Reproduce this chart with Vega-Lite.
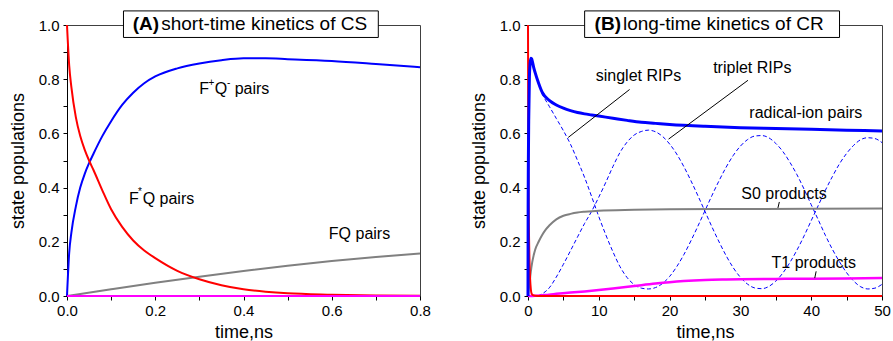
{
  "$schema": "https://vega.github.io/schema/vega-lite/v6.json",
  "padding": {"left": 8, "top": 9, "right": 0, "bottom": 0},
  "spacing": 38,
  "config": {
    "font": "Liberation Sans",
    "view": {"stroke": "#404040", "strokeWidth": 1},
    "axis": {"grid": false, "domainColor": "#000000", "tickColor": "#000000", "labelColor": "#000000", "titleColor": "#000000", "labelFont": "Liberation Sans", "titleFont": "Liberation Sans", "labelFontSize": 15, "titleFontSize": 18, "titleFontWeight": "normal", "tickSize": 4, "labelPadding": 3, "labelFlush": false, "labelOverlap": false}
  },
  "datasets": {
    "curvesA": [
      {"s":"red","t":0,"v":1},{"s":"red","t":0.005,"v":0.85},{"s":"red","t":0.01,"v":0.77},{"s":"red","t":0.02,"v":0.66},{"s":"red","t":0.03,"v":0.59},{"s":"red","t":0.04,"v":0.54},{"s":"red","t":0.05,"v":0.5},{"s":"red","t":0.06,"v":0.465},{"s":"red","t":0.08,"v":0.39},{"s":"red","t":0.1,"v":0.32},{"s":"red","t":0.125,"v":0.255},{"s":"red","t":0.15,"v":0.205},{"s":"red","t":0.175,"v":0.168},{"s":"red","t":0.2,"v":0.14},{"s":"red","t":0.25,"v":0.093},{"s":"red","t":0.3,"v":0.062},{"s":"red","t":0.35,"v":0.04},{"s":"red","t":0.4,"v":0.025},{"s":"red","t":0.45,"v":0.016},{"s":"red","t":0.5,"v":0.01},{"s":"red","t":0.6,"v":0.005},{"s":"red","t":0.7,"v":0.002},{"s":"red","t":0.8,"v":0.001},
      {"s":"blue","t":0,"v":0},{"s":"blue","t":0.005,"v":0.16},{"s":"blue","t":0.01,"v":0.235},{"s":"blue","t":0.02,"v":0.33},{"s":"blue","t":0.03,"v":0.4},{"s":"blue","t":0.04,"v":0.45},{"s":"blue","t":0.05,"v":0.49},{"s":"blue","t":0.06,"v":0.525},{"s":"blue","t":0.08,"v":0.59},{"s":"blue","t":0.1,"v":0.645},{"s":"blue","t":0.125,"v":0.705},{"s":"blue","t":0.15,"v":0.75},{"s":"blue","t":0.175,"v":0.785},{"s":"blue","t":0.2,"v":0.81},{"s":"blue","t":0.25,"v":0.84},{"s":"blue","t":0.3,"v":0.858},{"s":"blue","t":0.35,"v":0.87},{"s":"blue","t":0.4,"v":0.877},{"s":"blue","t":0.45,"v":0.877},{"s":"blue","t":0.5,"v":0.874},{"s":"blue","t":0.6,"v":0.867},{"s":"blue","t":0.7,"v":0.856},{"s":"blue","t":0.8,"v":0.844},
      {"s":"gray","t":0,"v":0},{"s":"gray","t":0.1,"v":0.025},{"s":"gray","t":0.2,"v":0.049},{"s":"gray","t":0.3,"v":0.071},{"s":"gray","t":0.4,"v":0.092},{"s":"gray","t":0.5,"v":0.112},{"s":"gray","t":0.6,"v":0.129},{"s":"gray","t":0.7,"v":0.144},{"s":"gray","t":0.8,"v":0.157},
      {"s":"magenta","t":0,"v":0},{"s":"magenta","t":0.8,"v":0}
    ],
    "curvesB": [
      {"s":"red","t":0,"v":1},{"s":"red","t":0.05,"v":0.5},{"s":"red","t":0.1,"v":0.32},{"s":"red","t":0.2,"v":0.14},{"s":"red","t":0.3,"v":0.062},{"s":"red","t":0.4,"v":0.025},{"s":"red","t":0.5,"v":0.01},{"s":"red","t":0.7,"v":0.003},{"s":"red","t":1,"v":0.001},{"s":"red","t":2,"v":0},{"s":"red","t":50,"v":0},
      {"s":"blue","t":0,"v":0},{"s":"blue","t":0.02,"v":0.33},{"s":"blue","t":0.05,"v":0.49},{"s":"blue","t":0.1,"v":0.645},{"s":"blue","t":0.2,"v":0.81},{"s":"blue","t":0.3,"v":0.858},{"s":"blue","t":0.4,"v":0.877},{"s":"blue","t":0.5,"v":0.876},{"s":"blue","t":0.6,"v":0.867},{"s":"blue","t":0.8,"v":0.844},{"s":"blue","t":1,"v":0.825},{"s":"blue","t":1.5,"v":0.785},{"s":"blue","t":2,"v":0.752},{"s":"blue","t":3,"v":0.722},{"s":"blue","t":4,"v":0.705},{"s":"blue","t":5,"v":0.693},{"s":"blue","t":6,"v":0.684},{"s":"blue","t":7,"v":0.677},{"s":"blue","t":8,"v":0.672},{"s":"blue","t":9,"v":0.668},{"s":"blue","t":10,"v":0.664},{"s":"blue","t":12,"v":0.656},{"s":"blue","t":14,"v":0.648},{"s":"blue","t":16,"v":0.641},{"s":"blue","t":18,"v":0.637},{"s":"blue","t":20,"v":0.633},{"s":"blue","t":25,"v":0.626},{"s":"blue","t":30,"v":0.621},{"s":"blue","t":35,"v":0.618},{"s":"blue","t":40,"v":0.615},{"s":"blue","t":45,"v":0.612},{"s":"blue","t":50,"v":0.609},
      {"s":"gray","t":0,"v":0},{"s":"gray","t":0.2,"v":0.045},{"s":"gray","t":0.4,"v":0.09},{"s":"gray","t":0.6,"v":0.125},{"s":"gray","t":0.8,"v":0.15},{"s":"gray","t":1,"v":0.17},{"s":"gray","t":1.5,"v":0.2},{"s":"gray","t":2,"v":0.225},{"s":"gray","t":2.5,"v":0.245},{"s":"gray","t":3,"v":0.26},{"s":"gray","t":4,"v":0.283},{"s":"gray","t":5,"v":0.296},{"s":"gray","t":6,"v":0.303},{"s":"gray","t":7,"v":0.308},{"s":"gray","t":8,"v":0.311},{"s":"gray","t":10,"v":0.315},{"s":"gray","t":15,"v":0.318},{"s":"gray","t":20,"v":0.32},{"s":"gray","t":30,"v":0.321},{"s":"gray","t":40,"v":0.322},{"s":"gray","t":50,"v":0.3225},
      {"s":"magenta","t":0,"v":0},{"s":"magenta","t":1,"v":0.001},{"s":"magenta","t":2,"v":0.003},{"s":"magenta","t":3,"v":0.005},{"s":"magenta","t":4,"v":0.008},{"s":"magenta","t":6,"v":0.013},{"s":"magenta","t":8,"v":0.017},{"s":"magenta","t":10,"v":0.022},{"s":"magenta","t":12,"v":0.028},{"s":"magenta","t":15,"v":0.037},{"s":"magenta","t":18,"v":0.046},{"s":"magenta","t":20,"v":0.051},{"s":"magenta","t":22,"v":0.055},{"s":"magenta","t":25,"v":0.059},{"s":"magenta","t":28,"v":0.061},{"s":"magenta","t":30,"v":0.062},{"s":"magenta","t":35,"v":0.063},{"s":"magenta","t":40,"v":0.064},{"s":"magenta","t":45,"v":0.065},{"s":"magenta","t":50,"v":0.066},
      {"s":"singlet","t":1.9,"v":0.748},{"s":"singlet","t":3,"v":0.7},{"s":"singlet","t":4,"v":0.655},{"s":"singlet","t":5,"v":0.61},{"s":"singlet","t":6,"v":0.56},{"s":"singlet","t":7,"v":0.5},{"s":"singlet","t":8,"v":0.437},{"s":"singlet","t":9,"v":0.366},{"s":"singlet","t":10,"v":0.293},{"s":"singlet","t":11,"v":0.225},{"s":"singlet","t":12,"v":0.163},{"s":"singlet","t":13,"v":0.108},{"s":"singlet","t":14,"v":0.068},{"s":"singlet","t":15,"v":0.042},{"s":"singlet","t":16,"v":0.029},{"s":"singlet","t":17,"v":0.026},{"s":"singlet","t":18,"v":0.031},{"s":"singlet","t":19,"v":0.046},{"s":"singlet","t":20,"v":0.072},{"s":"singlet","t":21,"v":0.108},{"s":"singlet","t":22,"v":0.152},{"s":"singlet","t":23,"v":0.203},{"s":"singlet","t":24,"v":0.258},{"s":"singlet","t":25,"v":0.315},{"s":"singlet","t":26,"v":0.372},{"s":"singlet","t":27,"v":0.426},{"s":"singlet","t":28,"v":0.476},{"s":"singlet","t":29,"v":0.519},{"s":"singlet","t":30,"v":0.553},{"s":"singlet","t":31,"v":0.577},{"s":"singlet","t":32,"v":0.59},{"s":"singlet","t":33,"v":0.592},{"s":"singlet","t":34,"v":0.584},{"s":"singlet","t":35,"v":0.563},{"s":"singlet","t":36,"v":0.533},{"s":"singlet","t":37,"v":0.493},{"s":"singlet","t":38,"v":0.447},{"s":"singlet","t":39,"v":0.394},{"s":"singlet","t":40,"v":0.337},{"s":"singlet","t":41,"v":0.281},{"s":"singlet","t":42,"v":0.224},{"s":"singlet","t":43,"v":0.172},{"s":"singlet","t":44,"v":0.126},{"s":"singlet","t":45,"v":0.086},{"s":"singlet","t":46,"v":0.055},{"s":"singlet","t":47,"v":0.034},{"s":"singlet","t":48,"v":0.026},{"s":"singlet","t":49,"v":0.029},{"s":"singlet","t":50,"v":0.043},
      {"s":"triplet","t":1.4,"v":0},{"s":"triplet","t":2,"v":0.008},{"s":"triplet","t":3,"v":0.03},{"s":"triplet","t":4,"v":0.07},{"s":"triplet","t":5,"v":0.117},{"s":"triplet","t":6,"v":0.167},{"s":"triplet","t":7,"v":0.218},{"s":"triplet","t":8,"v":0.268},{"s":"triplet","t":9,"v":0.313},{"s":"triplet","t":10,"v":0.365},{"s":"triplet","t":11,"v":0.42},{"s":"triplet","t":12,"v":0.478},{"s":"triplet","t":13,"v":0.53},{"s":"triplet","t":14,"v":0.568},{"s":"triplet","t":15,"v":0.594},{"s":"triplet","t":16,"v":0.607},{"s":"triplet","t":17,"v":0.612},{"s":"triplet","t":18,"v":0.606},{"s":"triplet","t":19,"v":0.589},{"s":"triplet","t":20,"v":0.561},{"s":"triplet","t":21,"v":0.524},{"s":"triplet","t":22,"v":0.478},{"s":"triplet","t":23,"v":0.426},{"s":"triplet","t":24,"v":0.37},{"s":"triplet","t":25,"v":0.312},{"s":"triplet","t":26,"v":0.254},{"s":"triplet","t":27,"v":0.199},{"s":"triplet","t":28,"v":0.148},{"s":"triplet","t":29,"v":0.104},{"s":"triplet","t":30,"v":0.069},{"s":"triplet","t":31,"v":0.044},{"s":"triplet","t":32,"v":0.03},{"s":"triplet","t":33,"v":0.027},{"s":"triplet","t":34,"v":0.035},{"s":"triplet","t":35,"v":0.055},{"s":"triplet","t":36,"v":0.085},{"s":"triplet","t":37,"v":0.124},{"s":"triplet","t":38,"v":0.17},{"s":"triplet","t":39,"v":0.222},{"s":"triplet","t":40,"v":0.278},{"s":"triplet","t":41,"v":0.334},{"s":"triplet","t":42,"v":0.39},{"s":"triplet","t":43,"v":0.441},{"s":"triplet","t":44,"v":0.488},{"s":"triplet","t":45,"v":0.526},{"s":"triplet","t":46,"v":0.556},{"s":"triplet","t":47,"v":0.577},{"s":"triplet","t":48,"v":0.584},{"s":"triplet","t":49,"v":0.581},{"s":"triplet","t":50,"v":0.566}
    ],
    "boxA": [{"t":0.128,"t2":0.7055,"v":0.954,"v2":1.052}],
    "boxB": [{"t":8.0,"t2":44.0,"v":0.954,"v2":1.052}],
    "headA": [{"t":0.149,"v":1.003,"text":"(A)"}],
    "subA": [{"t":0.2135,"v":1.003,"text":"short-time kinetics of CS"}],
    "headB": [{"t":9.41,"v":1.003,"text":"(B)"}],
    "subB": [{"t":13.42,"v":1.003,"text":"long-time kinetics of CR"}],
    "labelsA": [
      {"t":0.2995,"v":0.762,"text":"F"},{"t":0.3346,"v":0.762,"text":"Q"},{"t":0.3799,"v":0.762,"text":"pairs"},
      {"t":0.1404,"v":0.359,"text":"F"},{"t":0.1715,"v":0.359,"text":"Q pairs"},
      {"t":0.5934,"v":0.228,"text":"FQ pairs"}
    ],
    "supsA": [
      {"t":0.3275,"v":0.787,"text":"+"},{"t":0.3665,"v":0.787,"text":"-"},{"t":0.1655,"v":0.383,"text":"*"}
    ],
    "labelsB": [
      {"t":15.6,"v":0.8127,"text":"singlet RIPs"},
      {"t":31.68,"v":0.8397,"text":"triplet RIPs"},
      {"t":39.24,"v":0.676,"text":"radical-ion pairs"},
      {"t":36.16,"v":0.3768,"text":"S0 products"},
      {"t":40.37,"v":0.1219,"text":"T1 products"}
    ],
    "leadersB": [
      {"t":5.68,"v":0.585,"t2":14.35,"v2":0.762},
      {"t":19.86,"v":0.579,"t2":31.07,"v2":0.796},
      {"t":35.3,"v":0.325,"t2":35.5,"v2":0.347},
      {"t":40.5,"v":0.066,"t2":40.7,"v2":0.091}
    ]
  },
  "hconcat": [
    {
      "width": 353,
      "height": 271,
      "encoding": {
        "x": {"field": "t", "type": "quantitative", "scale": {"domain": [0, 0.8], "nice": false, "zero": false},
              "axis": {"title": "time,ns", "titlePadding": 5, "values": [0,0.1,0.2,0.3,0.4,0.5,0.6,0.7,0.8], "labelExpr": "round(datum.value*10) % 2 == 0 ? format(datum.value, '.1f') : ''"}},
        "y": {"field": "v", "type": "quantitative", "scale": {"domain": [0, 1], "nice": false},
              "axis": {"title": "state populations", "titlePadding": 11, "labelPadding": 4, "values": [0,0.1,0.2,0.3,0.4,0.5,0.6,0.7,0.8,0.9,1], "labelExpr": "round(datum.value*10) % 2 == 0 ? format(datum.value, '.1f') : ''"}}
      },
      "layer": [
        {"data": {"name": "curvesA"}, "transform": [{"filter": "datum.s == 'gray'"}], "mark": {"type": "line", "color": "#808080", "strokeWidth": 2, "interpolate": "monotone"}},
        {"data": {"name": "curvesA"}, "transform": [{"filter": "datum.s == 'blue'"}], "mark": {"type": "line", "color": "#0000ff", "strokeWidth": 2, "interpolate": "monotone"}},
        {"data": {"name": "curvesA"}, "transform": [{"filter": "datum.s == 'red'"}], "mark": {"type": "line", "color": "#ff0000", "strokeWidth": 2, "interpolate": "monotone"}},
        {"data": {"name": "curvesA"}, "transform": [{"filter": "datum.s == 'magenta'"}], "mark": {"type": "line", "color": "#ff00ff", "strokeWidth": 2, "interpolate": "monotone"}},
        {"data": {"name": "boxA"}, "mark": {"type": "rect", "fill": "#ffffff", "stroke": "#000000", "strokeWidth": 1}, "encoding": {"x2": {"field": "t2"}, "y2": {"field": "v2"}}},
        {"data": {"name": "headA"}, "mark": {"type": "text", "align": "left", "baseline": "middle", "fontSize": 19, "fontWeight": "bold", "font": "Liberation Sans", "color": "#000000"}, "encoding": {"text": {"field": "text"}}},
        {"data": {"name": "subA"}, "mark": {"type": "text", "align": "left", "baseline": "middle", "fontSize": 19, "font": "Liberation Sans", "color": "#000000"}, "encoding": {"text": {"field": "text"}}},
        {"data": {"name": "labelsA"}, "mark": {"type": "text", "align": "left", "baseline": "middle", "fontSize": 16, "font": "Liberation Sans", "color": "#000000"}, "encoding": {"text": {"field": "text"}}},
        {"data": {"name": "supsA"}, "mark": {"type": "text", "align": "center", "baseline": "middle", "fontSize": 10, "font": "Liberation Sans", "color": "#000000"}, "encoding": {"text": {"field": "text"}}}
      ]
    },
    {
      "width": 354,
      "height": 271,
      "encoding": {
        "x": {"field": "t", "type": "quantitative", "scale": {"domain": [0, 50], "nice": false, "zero": false},
              "axis": {"title": "time,ns", "titlePadding": 5, "values": [0,5,10,15,20,25,30,35,40,45,50], "labelExpr": "datum.value % 10 == 0 ? format(datum.value, 'd') : ''"}},
        "y": {"field": "v", "type": "quantitative", "scale": {"domain": [0, 1], "nice": false},
              "axis": {"title": "state populations", "titlePadding": 11, "labelPadding": 4, "values": [0,0.1,0.2,0.3,0.4,0.5,0.6,0.7,0.8,0.9,1], "labelExpr": "round(datum.value*10) % 2 == 0 ? format(datum.value, '.1f') : ''"}}
      },
      "layer": [
        {"data": {"name": "curvesB"}, "transform": [{"filter": "datum.s == 'triplet'"}], "mark": {"type": "line", "color": "#0000ff", "strokeWidth": 1, "strokeDash": [4, 2.5], "interpolate": "monotone"}},
        {"data": {"name": "curvesB"}, "transform": [{"filter": "datum.s == 'singlet'"}], "mark": {"type": "line", "color": "#0000ff", "strokeWidth": 1, "strokeDash": [4, 2.5], "interpolate": "monotone"}},
        {"data": {"name": "curvesB"}, "transform": [{"filter": "datum.s == 'gray'"}], "mark": {"type": "line", "color": "#808080", "strokeWidth": 2, "interpolate": "monotone"}},
        {"data": {"name": "curvesB"}, "transform": [{"filter": "datum.s == 'magenta'"}], "mark": {"type": "line", "color": "#ff00ff", "strokeWidth": 2.5, "interpolate": "monotone"}},
        {"data": {"name": "curvesB"}, "transform": [{"filter": "datum.s == 'red'"}], "mark": {"type": "line", "color": "#ff0000", "strokeWidth": 2, "interpolate": "monotone"}},
        {"data": {"name": "curvesB"}, "transform": [{"filter": "datum.s == 'blue'"}], "mark": {"type": "line", "color": "#0000ff", "strokeWidth": 3, "interpolate": "monotone"}},
        {"data": {"name": "leadersB"}, "mark": {"type": "rule", "color": "#000000", "strokeWidth": 1}, "encoding": {"x2": {"field": "t2"}, "y2": {"field": "v2"}}},
        {"data": {"name": "boxB"}, "mark": {"type": "rect", "fill": "#ffffff", "stroke": "#000000", "strokeWidth": 1}, "encoding": {"x2": {"field": "t2"}, "y2": {"field": "v2"}}},
        {"data": {"name": "headB"}, "mark": {"type": "text", "align": "left", "baseline": "middle", "fontSize": 19, "fontWeight": "bold", "font": "Liberation Sans", "color": "#000000"}, "encoding": {"text": {"field": "text"}}},
        {"data": {"name": "subB"}, "mark": {"type": "text", "align": "left", "baseline": "middle", "fontSize": 19, "font": "Liberation Sans", "color": "#000000"}, "encoding": {"text": {"field": "text"}}},
        {"data": {"name": "labelsB"}, "mark": {"type": "text", "align": "center", "baseline": "middle", "fontSize": 16, "font": "Liberation Sans", "color": "#000000"}, "encoding": {"text": {"field": "text"}}}
      ]
    }
  ]
}
